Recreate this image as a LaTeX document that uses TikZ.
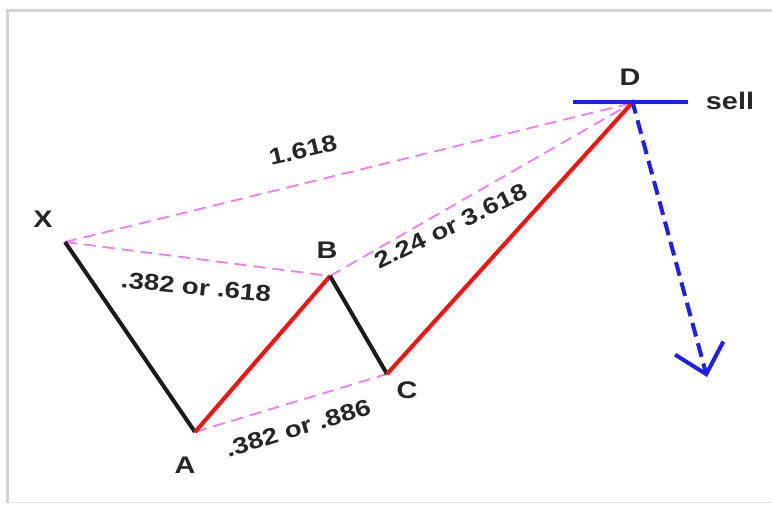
\documentclass[tikz,border=0pt]{standalone}
\usepackage{fontspec}
\setmainfont{Liberation Sans}
\newfontfamily\chartfont[FakeStretch=1.2]{Liberation Sans}
\usetikzlibrary{arrows.meta,positioning,calc}
\definecolor{cleg}{HTML}{FF1010}
\definecolor{cback}{HTML}{1A1A1A}
\definecolor{cratio}{HTML}{F07CF0}
\definecolor{csell}{HTML}{1E1EF0}
\definecolor{cframe}{HTML}{D4D4D4}

\begin{document}
\begin{tikzpicture}[
  x=1pt, y=-1pt,
  font=\chartfont\fontsize{23}{25}\selectfont\bfseries,
  up/.style={line width=4pt, draw=cleg},
  down/.style={line width=4pt, draw=cback},
  ratio/.style={line width=1.8pt, draw=cratio, dash pattern=on 12pt off 7pt},
  pt/.style={font=\chartfont\fontsize{24}{26}\selectfont\bfseries, text=black!85, inner sep=0pt},
  fib/.style={text=black!85, inner sep=0pt, rotate=#1},
  target/.style={-{Straight Barb[length=27pt, width=50pt, line width=4pt]},
                 line width=4pt, draw=csell, dash pattern=on 14pt off 7pt},
]
\useasboundingbox (0,0) rectangle (772,506);

% ------------------------------------------------------------ frame
\fill[white] (0,0) rectangle (772,506);
\draw[line width=3pt, draw=cframe] (7,503) -- (7,10) -- (772,10);
\draw[line width=0.6pt, draw=cframe!70] (9,502) -- (772,502);

% ------------------------------------------------------------ turning points
\coordinate (X) at (65,242);
\coordinate (A) at (195,432);
\coordinate (B) at (330,276);
\coordinate (C) at (387,374);
\coordinate (D) at (632,103);
\coordinate (Dl) at (573,102);
\coordinate (Dr) at (688,102);
\coordinate (exit) at (707,377);

% ------------------------------------------------------------ ratios
\draw[ratio] (X) -- (D);
\draw[ratio] (X) -- (B);
\draw[ratio] (B) -- (D);
\draw[ratio] (A) -- (C);

% ------------------------------------------------------------ legs
\draw[down] (X) -- (A);
\draw[up] (A) -- (B);
\draw[down] (B) -- (C);
\draw[up] (C) -- (D);

% ------------------------------------------------------------ sell
\draw[line width=4pt, draw=csell] (Dl) -- (Dr);
\draw[target] ([yshift=3pt]D) -- (exit);

% ------------------------------------------------------------ labels
\node[pt] (lX) at (43,219) {X};
\node[pt] (lA) at (185,465) {A};
\node[pt] (lB) at (327,250) {B};
\node[pt] (lC) at (407,390) {C};
\node[pt] (lD) at (630,77) {D};
\node[pt] (lsell) at (730,101) {sell};

\node[fib=13] (rXD) at (303,150) {1.618};
\node[fib=-5.5] (rXB) at (196,287) {.382 or .618};
\node[fib=26] (rBD) at (451,226) {2.24 or 3.618};
\node[fib=17] (rAC) at (298,428) {.382 or .886};
\end{tikzpicture}
\end{document}
